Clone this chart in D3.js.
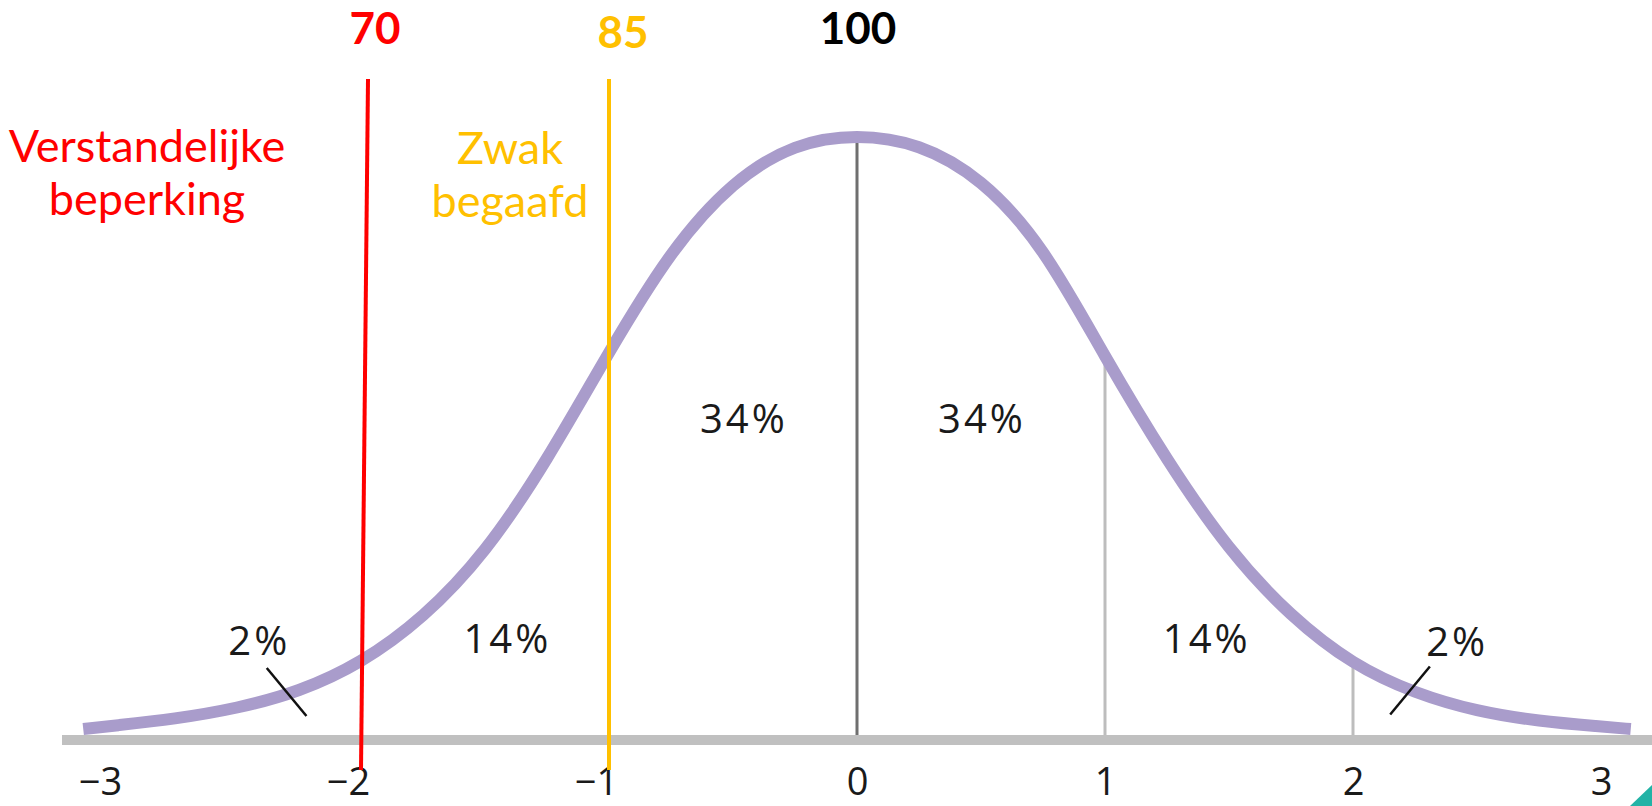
<!DOCTYPE html>
<html>
<head>
<meta charset="utf-8">
<script src="https://cdn.jsdelivr.net/npm/d3@7"></script>
<style>
  html, body { margin: 0; padding: 0; background: #fff; }
  svg { display: block; }
</style>
</head>
<body>
<div id="chart"></div>
<script>
// curve: z (standard deviations) and height of the bell
const zValues = [-3.12, -3, -2.75, -2.5, -2.25, -2, -1.75, -1.5, -1.25, -1, -0.75, -0.5, -0.25, 0,
                 0.25, 0.5, 0.75, 1, 1.25, 1.5, 1.75, 2, 2.25, 2.5, 2.75, 3, 3.12];
const density = [0.0013, 0.0035, 0.008, 0.015, 0.026, 0.045, 0.075, 0.118, 0.180, 0.253, 0.321, 0.367, 0.392, 0.398,
                 0.392, 0.369, 0.324, 0.249, 0.180, 0.120, 0.076, 0.044, 0.025, 0.013, 0.0065, 0.003, 0.0013];

const tickValues = [-3, -2, -1, 0, 1, 2, 3];
const gridValues = [0, 1, 2];

const pctLabels = ['2%', '14%', '34%', '34%', '14%', '2%'];
const pctZ      = [-2.41, -1.41, -0.456, 0.504, 1.41, 2.42];
const pctY      = [0.051, 0.052, 0.199, 0.199, 0.052, 0.050];

// little pointer strokes for the 2% tails: [z0, d0, z1, d1]
const pointers = [[-2.38, 0.042, -2.22, 0.010], [2.31, 0.043, 2.15, 0.011]];

const iqScores  = ['70', '85', '100'];
const iqZ       = [-2, -1, 0];
const iqColors  = ['#ff0000', '#ffc000', '#000000'];

const groupNames = [['Verstandelijke', 'beperking'], ['Zwak', 'begaafd']];

const width = 1652, height = 806;

const x = d3.scaleLinear().domain([-3, 3]).range([113, 1601]);
const y = d3.scaleLinear().domain([0, 0.4]).range([731, 131]);

const svg = d3.select('#chart').append('svg')
  .attr('width', width)
  .attr('height', height);

const pts = zValues.map((z, i) => [z, density[i]]);
const dAt = z => density[zValues.indexOf(z)];

// grey sd lines under the curve
svg.selectAll('.grid')
  .data(gridValues).enter().append('line')
  .attr('class', 'grid')
  .attr('x1', d => x(d)).attr('x2', d => x(d))
  .attr('y1', d => y(dAt(d)))
  .attr('y2', 736)
  .style('stroke', d => d === 0 ? '#6f6f6f' : '#bdbdbd')
  .style('stroke-width', 3);

// baseline
svg.append('line')
  .attr('x1', 62).attr('x2', width)
  .attr('y1', 740).attr('y2', 740)
  .style('stroke', '#c0c0c0')
  .style('stroke-width', 10);

// the bell
const line = d3.line()
  .x(d => x(d[0]))
  .y(d => y(d[1]))
  .curve(d3.curveBasis);

svg.append('path')
  .datum(pts)
  .attr('d', line)
  .style('fill', 'none')
  .style('stroke', '#a99ccb')
  .style('stroke-width', 12);

// tick labels
const axis = d3.axisBottom(x)
  .tickValues(tickValues)
  .tickSize(0)
  .tickPadding(0)
  .tickFormat(d3.format('d'));

const gAxis = svg.append('g')
  .attr('transform', 'translate(0, 795)')
  .call(axis);
gAxis.select('.domain').remove();
gAxis.selectAll('text')
  .attr('y', 0)
  .attr('dy', 0)
  .attr('dx', d => d < 0 ? -13 : 0)
  .style('font-family', '"Open Sans", sans-serif')
  .style('font-size', '38px')
  .style('fill', '#1a1a1a');

// percentages
svg.selectAll('.pct')
  .data(pctLabels).enter().append('text')
  .attr('class', 'pct')
  .attr('x', (d, i) => x(pctZ[i]))
  .attr('y', (d, i) => y(pctY[i]))
  .attr('text-anchor', 'middle')
  .text(d => d)
  .style('font-family', '"Open Sans", sans-serif')
  .style('font-size', '40px')
  .style('letter-spacing', '3px')
  .style('fill', '#1a1a1a');

svg.selectAll('.pointer')
  .data(pointers).enter().append('line')
  .attr('class', 'pointer')
  .attr('x1', d => x(d[0])).attr('y1', d => y(d[1]))
  .attr('x2', d => x(d[2])).attr('y2', d => y(d[3]))
  .style('stroke', '#111')
  .style('stroke-width', 2.5);

// IQ cut-off lines (70 and 85)
const lean = [7, 0];
svg.selectAll('.cut')
  .data(iqZ.slice(0, 2)).enter().append('line')
  .attr('class', 'cut')
  .attr('x1', (d, i) => x(d) + lean[i]).attr('y1', 79)
  .attr('x2', d => x(d)).attr('y2', 770)
  .style('stroke', (d, i) => iqColors[i])
  .style('stroke-width', 4);

// IQ scores on top
svg.selectAll('.iq')
  .data(iqScores).enter().append('text')
  .attr('class', 'iq')
  .attr('x', (d, i) => x(iqZ[i]) + [14, 14, 1][i])
  .attr('y', (d, i) => [44, 48, 44][i])
  .attr('text-anchor', 'middle')
  .text(d => d)
  .style('font-family', 'Lato, sans-serif')
  .style('font-weight', 'bold')
  .style('font-size', '44px')
  .style('fill', (d, i) => iqColors[i]);

// group names
const gNames = svg.selectAll('.grp')
  .data(groupNames).enter().append('text')
  .attr('class', 'grp')
  .attr('text-anchor', 'middle')
  .style('font-family', 'Lato, sans-serif')
  .style('font-size', '45px')
  .style('fill', (d, i) => iqColors[i]);

gNames.each(function(d, i) {
  const cx = [147, 510][i];
  d3.select(this).selectAll('tspan')
    .data(d).enter().append('tspan')
    .attr('x', cx)
    .attr('y', (t, j) => [162, 215][j] + (i === 1 ? 2 : 0))
    .text(t => t);
});

// corner decoration of the slide
svg.append('path')
  .attr('d', `M${width - 22},${height} L${width},${height - 21} L${width},${height} Z`)
  .style('fill', '#22b3a6');
</script>
</body>
</html>
